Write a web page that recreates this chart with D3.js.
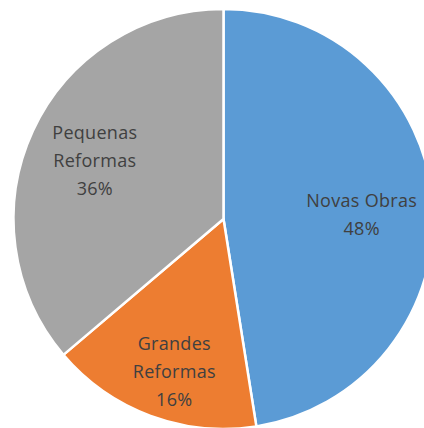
<!DOCTYPE html>
<html>
<head>
<meta charset="utf-8">
<script src="https://cdn.jsdelivr.net/npm/d3@7"></script>
<style>
  html, body { margin: 0; padding: 0; background: #fff; }
  svg { display: block; }
</style>
</head>
<body>
<div id="chart"></div>
<script>
// categories and values (percent, labels show the rounded value)
const categories = ['Novas Obras', 'Grandes Reformas', 'Pequenas Reformas'];
const values = [47.5, 16.3, 36.2];
const nameLines = [['Novas Obras'], ['Grandes', 'Reformas'], ['Pequenas', 'Reformas']];

const W = 424, H = 428;
const cx = 223.5, cy = 219, R = 210;
const colors = d3.scaleOrdinal().domain(categories).range(['#5B9BD5', '#ED7D31', '#A5A5A5']);
// label placement along each slice (fraction of radius) + small nudge
const labelFactor = [0.66, 0.77, 0.67];
const labelNudge = [[0, 6], [7, 1], [-1, 1]];

const svg = d3.select('#chart').append('svg')
  .attr('width', W).attr('height', H);

const g = svg.append('g').attr('transform', `translate(${cx},${cy})`);

const data = categories.map((c, i) => ({
  name: c, value: values[i],
  lines: nameLines[i].concat([Math.round(values[i]) + '%']),
  k: labelFactor[i], nudge: labelNudge[i]
}));

const pie = d3.pie().value(d => d.value).sort(null);
const arc = d3.arc().innerRadius(0).outerRadius(R);
const arcs = pie(data);

g.selectAll('path')
  .data(arcs)
  .join('path')
  .attr('d', arc)
  .attr('fill', d => colors(d.data.name))
  .attr('stroke', '#fff')
  .attr('stroke-width', 2.5)
  .attr('stroke-linejoin', 'round');

const lineH = 28;
g.selectAll('text.lbl')
  .data(arcs)
  .join('text')
  .attr('class', 'lbl')
  .attr('text-anchor', 'middle')
  .attr('font-family', 'Open Sans, sans-serif')
  .attr('font-size', 18)
  .attr('letter-spacing', 0.3)
  .attr('fill', '#404040')
  .each(function (d) {
    const a = (d.startAngle + d.endAngle) / 2;
    const r = R * d.data.k;
    const x = Math.sin(a) * r + d.data.nudge[0];
    const y = -Math.cos(a) * r + d.data.nudge[1];
    const n = d.data.lines.length;
    d3.select(this).selectAll('tspan')
      .data(d.data.lines)
      .join('tspan')
      .attr('x', x)
      .attr('y', (t, i) => y + (i - (n - 1) / 2) * lineH + 6.5)
      .text(t => t);
  });
</script>
</body>
</html>
